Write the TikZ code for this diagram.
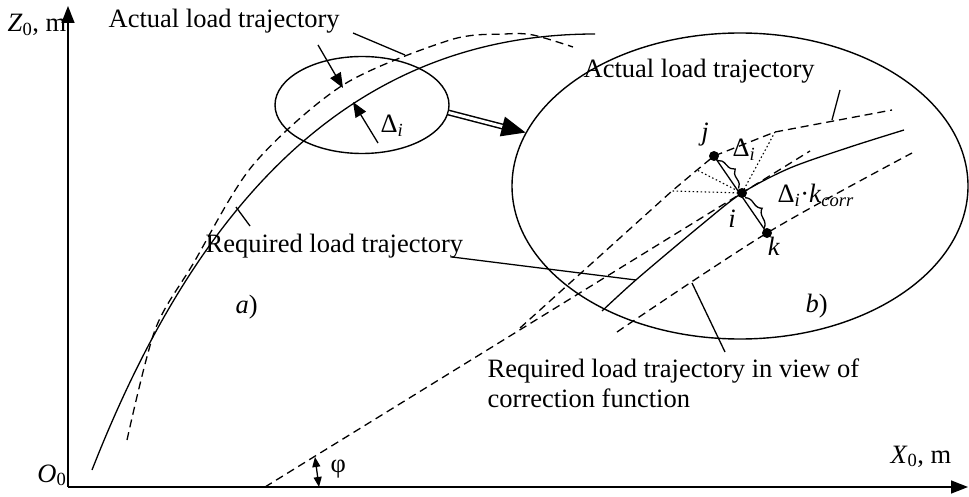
\documentclass[tikz,border=0pt]{standalone}
\usepackage{fontspec}
\setmainfont{Liberation Serif}
\usetikzlibrary{arrows.meta,shapes.geometric,decorations.pathreplacing}

\begin{document}
\begin{tikzpicture}[
    x=1pt, y=-1pt,
    font=\fontsize{26.5}{30}\selectfont,
    line width=1.3pt,
    lbl/.style={inner sep=0pt, anchor=base west},
    axis/.style={line width=1.6pt, -{Triangle[length=17pt,width=13pt]}},
    traj/.style={line width=1.3pt},
    dashtraj/.style={line width=1.3pt, dash pattern=on 8pt off 5pt},
    ray/.style={line width=1.1pt, dash pattern=on 1.5pt off 2.5pt},
    lead/.style={line width=1.3pt},
    dot/.style={circle, fill, inner sep=0pt, minimum size=10pt},
    zoomring/.style={draw, ellipse, inner sep=0pt, line width=1.4pt},
    brc/.style={decorate, decoration={brace, amplitude=9pt}, line width=1.3pt}
]
\useasboundingbox (0,0) rectangle (969,497);

% Axes
\coordinate (O) at (68,487);
\coordinate (ztop) at (68,6);
\coordinate (xend) at (968,487);
\draw[axis] (O) -- (ztop);
\draw[axis] (O) -- (xend);
\node[lbl] (zlab) at (7,32) {\textit{Z}\textsubscript{0}, m};
\node[lbl, anchor=base east] (olab) at (67,482) {\textit{O}\textsubscript{0}};
\node[lbl] (xlab) at (890,463) {\textit{X}\textsubscript{0}, m};

% Trajectories, general view
\draw[traj] (92,470) .. controls (190,220) and (340,34) .. (595,34);
\draw[dashtraj] plot[smooth] coordinates {(127,440) (155,330) (193,264) (253,165) (343,85) (450,40) (505,34) (533,35) (573,47)};

% Rings
\node[zoomring, minimum width=174pt, minimum height=97pt] (near) at (362,105) {};
\node[zoomring, minimum width=456pt, minimum height=306pt] (far) at (740,186) {};
\draw[line width=1.5pt, double, double distance=3pt, -{Triangle[length=24pt,width=20pt]}] (near.-5) -- (far.166);

% Deviation in small ring
\coordinate (da) at (318,45);
\coordinate (db) at (343,88);
\coordinate (dc) at (378,143);
\coordinate (dd) at (353,102);
\foreach \a/\b in {da/db, dc/dd}
    \draw[-{Triangle[length=15pt,width=12pt]}] (\a) -- (\b);
\node[lbl] (dlt) at (380,133) {Δ\textsubscript{\textit{i}}};

% Zoomed view
\coordinate (p1) at (520,328);
\coordinate (p2) at (672,191);
\coordinate (p3) at (697,170);
\coordinate (p4) at (775,132);
\coordinate (p5) at (892,110);
\node[dot] (j) at (714,156) {};
\node[dot] (i) at (742,193) {};
\node[dot] (k) at (767,233) {};
\draw[dashtraj] (p1) -- (p2) -- (p3) -- (j.center) -- (p4) -- (p5);
\foreach \p in {p2,p3,p4}
    \draw[ray] (i.center) -- (\p);
\draw[traj] plot[smooth] coordinates {(602,311) (637,279) (700,226) (742,193) (790,168) (850,147) (904,130)};
\draw[dashtraj] plot[smooth] coordinates {(617,332) (767,233) (912,153)};
\coordinate (t0) at (265,487);
\coordinate (t1) at (810,151);
\draw[dashtraj] (t0) -- (t1);
\draw (j.center) -- (k.center);
\draw[brc] (j) -- (i);
\draw[brc] (i) -- (k);
\node[lbl, anchor=base] (jl) at (705,141) {\textit{j}};
\node[lbl, anchor=base] (il) at (732,227) {\textit{i}};
\node[lbl, anchor=base] (kl) at (774,255) {\textit{k}};
\node[lbl] (dj) at (732,157) {Δ\textsubscript{\textit{i}}};
\node[lbl] (dk) at (777,203) {Δ\textsubscript{\textit{i}}·\textit{k}\textsubscript{\textit{corr}}};

% Labels
\node[lbl] (act1) at (108,28) {Actual load trajectory};
\node[lbl] (act2) at (583,78) {Actual load trajectory};
\node[lbl] (req1) at (205,252) {Required load trajectory};
\node[lbl, anchor=north west, align=left] (req2) at (487,358) {Required load trajectory in view of\\correction function};
\node[lbl] (pa) at (235,313) {\textit{a})};
\node[lbl] (pb) at (805,312) {\textit{b})};

% Leaders
\coordinate (l1a) at (353,33);
\coordinate (l1b) at (405,55);
\coordinate (l2a) at (840,90);
\coordinate (l2b) at (832,120);
\coordinate (l3a) at (236,207);
\coordinate (l3b) at (250,226);
\coordinate (l4a) at (452,257);
\coordinate (l4b) at (636,280);
\coordinate (l5a) at (692,283);
\coordinate (l5b) at (725,352);
\foreach \a/\b in {l1a/l1b, l2a/l2b, l3a/l3b, l4a/l4b, l5a/l5b}
    \draw[lead] (\a) -- (\b);

% Angle
\coordinate (fa) at (315,457);
\coordinate (fb) at (319,487);
\draw[{Triangle[length=10pt,width=8pt]}-{Triangle[length=10pt,width=8pt]}] (fa) -- (fb);
\node[lbl] (phi) at (330,472) {φ};
\end{tikzpicture}
\end{document}
